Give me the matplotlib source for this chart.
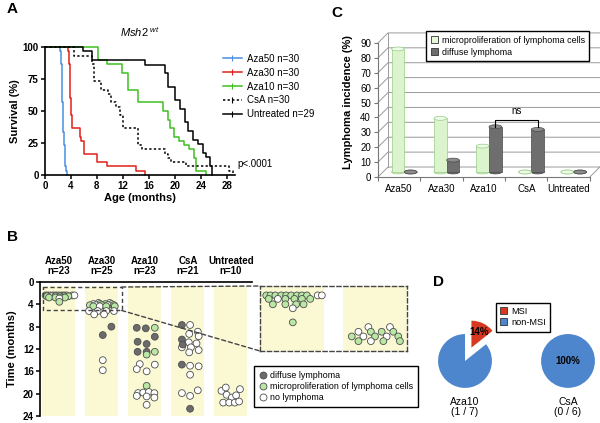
import numpy as np
import matplotlib
matplotlib.use('Agg')
import matplotlib.pyplot as plt
from matplotlib.lines import Line2D
from matplotlib.patches import Patch, Ellipse, ConnectionPatch

plt.rcParams['font.family'] = ['Liberation Sans', 'DejaVu Sans']
plt.rcParams['mathtext.fontset'] = 'custom'
plt.rcParams['mathtext.it'] = 'Liberation Sans:italic'
plt.rcParams['mathtext.rm'] = 'Liberation Sans'

# ---------------- data ----------------
# A: survival steps (months, % alive)
aza50_t = [0, 2.35, 2.45, 2.55, 2.65, 2.75, 2.85, 2.95, 3.05, 3.15, 3.25, 3.35]
aza50_s = [100, 96.7, 86.7, 70, 56.7, 43.3, 33.3, 23.3, 13.3, 6.7, 3.3, 0]
aza30_t = [0, 3.6, 3.7, 3.8, 3.9, 4.0, 4.1, 5.4, 5.6, 6.0, 8.0, 9.5, 14.0, 15.4]
aza30_s = [100, 96.7, 86.7, 73.3, 60, 46.7, 36.7, 30, 26.7, 16.7, 10, 6.7, 3.3, 0]
aza10_t = [0, 8.2, 9.5, 11.8, 12.8, 14.4, 18.2, 19.0, 19.2, 19.9, 20.7, 21.4, 22.2, 23.0, 23.3, 24.8]
aza10_s = [100, 90, 86.7, 80, 66.7, 56.7, 50, 43.3, 36.7, 30, 26.7, 23.3, 20, 13.3, 3.3, 0]
csa_t = [0, 4.4, 7.2, 7.5, 8.7, 9.7, 10.2, 11.0, 11.5, 12.1, 14.4, 14.9, 18.5, 19.0, 19.5, 21.8, 28.4, 29.0]
csa_s = [100, 93.3, 86.7, 73.3, 66.7, 63.3, 56.7, 53.3, 46.7, 36.7, 23.3, 20, 16.7, 13.3, 10, 6.7, 3.3, 0]
untr_t = [0, 5.9, 7.2, 15.4, 18.5, 19.0, 20.0, 20.8, 21.6, 22.1, 22.9, 23.6, 24.4, 24.9, 25.4, 25.8]
untr_s = [100, 96.6, 89.7, 86.2, 79.3, 69.0, 58.6, 51.7, 41.4, 34.5, 27.6, 24.1, 17.2, 13.8, 6.9, 0]
km_labels = ['Aza50 n=30', 'Aza30 n=30', 'Aza10 n=30', 'CsA n=30', 'Untreated n=29']

# B: individual mice (x offset in column, time of death, d=diffuse m=micro n=none)
groups = ['Aza50', 'Aza30', 'Aza10', 'CsA', 'Untreated']
group_n = [23, 25, 23, 21, 10]
aza50_x = [-0.31, -0.26, -0.20, -0.13, -0.07, -0.01, 0.06, 0.12, 0.18, 0.31, 0.36,
           -0.28, -0.17, -0.08, 0.03, 0.12, 0.22, -0.23, -0.08, 0.05, 0.14, 0.01, 0.01]
aza50_y = [2.4, 2.4, 2.4, 2.4, 2.4, 2.4, 2.4, 2.4, 2.4, 2.4, 2.4,
           2.55, 2.55, 2.55, 2.55, 2.55, 2.55, 2.78, 2.78, 2.78, 2.78, 2.95, 3.55]
aza50_k = 'mmmmmmmmmnnmnmmmmmmmmnm'
aza30_x = [-0.08, 0.18, -0.20, -0.05, 0.08, 0.22, -0.28, -0.14, 0.00, 0.14, 0.28,
           -0.20, -0.05, 0.10, 0.30, -0.30, -0.10, 0.10, 0.28, -0.18, 0.05, 0.22, 0.02, 0.02, 0.02]
aza30_y = [3.75, 3.75, 3.95, 3.95, 3.95, 3.95, 4.15, 4.15, 4.15, 4.15, 4.15,
           4.35, 4.35, 4.35, 4.35, 5.2, 5.2, 5.2, 5.2, 5.8, 5.8, 8.0, 9.5, 14.0, 15.8]
aza30_k = 'nnnmmmmnmnmmnmmnnnnnnddnn'
aza10_x = [-0.19, 0.02, 0.23, 0.23, -0.17, 0.04, -0.17, 0.04, 0.23, 0.04,
           -0.12, 0.23, -0.19, 0.04, 0.04, -0.16, -0.04, 0.09, 0.22, -0.19, 0.04, 0.22, 0.04]
aza10_y = [8.2, 8.3, 8.2, 9.8, 10.7, 11.1, 12.5, 12.5, 12.5, 13.0,
           14.7, 14.8, 15.6, 16.0, 18.6, 19.9, 19.8, 19.7, 19.9, 20.4, 20.5, 20.7, 22.0]
aza10_k = 'ddmdddddmmnnnnmnnnnnnnn'
csa_x = [-0.14, 0.05, 0.23, 0.03, 0.25, -0.14, 0.02, 0.20, -0.14, 0.07, 0.25,
         0.03, -0.12, -0.14, 0.05, 0.25, 0.05, -0.14, 0.05, 0.23, 0.05]
csa_y = [7.7, 7.7, 8.9, 9.3, 9.7, 10.3, 10.8, 11.0, 11.7, 11.7, 12.2,
         12.6, 11.2, 14.8, 15.0, 15.1, 16.6, 19.9, 20.4, 19.4, 22.7]
csa_k = 'dnnnndnnnnnnddnnnnnnd'
untr_x = [-0.22, -0.12, 0.21, -0.10, 0.02, -0.18, -0.04, 0.09, 0.19, 0.12]
untr_y = [19.5, 18.9, 19.2, 20.2, 20.7, 21.6, 21.6, 21.6, 21.4, 20.3]
untr_k = 'nnnnnnnnnn'

# C: lymphoma incidence (%)
micro_pct = [82.6, 36.0, 17.4, 0, 0]
diffuse_pct = [0, 8.0, 30.4, 28.6, 0]

# D: MSI status
pie_groups = ['Aza10', 'CsA']
msi_n = [1, 0]
nonmsi_n = [6, 6]

# ---------------- figure ----------------
W, H = 600, 423
fig = plt.figure(figsize=(6, 4.23), dpi=100)


def box(l, t, r, b):
    return [l / W, 1 - b / H, (r - l) / W, (b - t) / H]


def label(x, y, s):
    fig.text(x / W, 1 - y / H, s, fontsize=11, fontweight='bold', ha='center', va='center')


label(12, 9, 'A')
label(13, 237, 'B')
label(337, 13, 'C')
label(439, 282, 'D')

# ---- A ----
axA = fig.add_axes(box(45, 47, 235, 175))
km_colors = ['#4a90e2', '#e0201b', '#3fbf20', 'black', 'black']
km_styles = ['-', '-', '-', (0, (1.5, 1.5)), '-']
for (t, s), c, ls in zip([(aza50_t, aza50_s), (aza30_t, aza30_s), (aza10_t, aza10_s),
                          (csa_t, csa_s), (untr_t, untr_s)], km_colors, km_styles):
    axA.step(t, s, where='post', color=c, ls=ls, lw=1.1, clip_on=False)
axA.set_xlim(0, 29.3)
axA.set_ylim(0, 100)
axA.set_xticks(range(0, 29, 4))
axA.set_yticks([0, 25, 50, 75, 100])
for sp in ['top', 'right']:
    axA.spines[sp].set_visible(False)
for sp in ['left', 'bottom']:
    axA.spines[sp].set_linewidth(1.2)
axA.tick_params(length=3, width=1.1, labelsize=7, pad=1.5)
for lab in axA.get_xticklabels() + axA.get_yticklabels():
    lab.set_fontweight('bold')
axA.set_xlabel('Age (months)', fontsize=8, fontweight='bold', labelpad=1)
axA.set_ylabel('Survival (%)', fontsize=8, fontweight='bold', labelpad=2)
axA.set_title(r'$Msh2^{\ wt}$', fontsize=8, pad=7)
axA.text(29.7, 8.6, 'p<.0001', fontsize=7, va='center', clip_on=False)
handles = [Line2D([], [], color=c, ls=ls, lw=1.1, marker='|', markersize=4, markeredgewidth=0.8)
           for c, ls in zip(km_colors, km_styles)]
fig.legend(handles, km_labels, loc='upper left', bbox_to_anchor=(214 / W, 1 - 45 / H),
           frameon=False, fontsize=7, handlelength=2.0, labelspacing=0.4, handletextpad=0.5)

# ---- B ----
yellow = '#fbf8d4'
kind_color = {'d': '#6b6b6b', 'm': '#b9e8a4', 'n': 'white'}
dots = [(aza50_x, aza50_y, aza50_k), (aza30_x, aza30_y, aza30_k), (aza10_x, aza10_y, aza10_k),
        (csa_x, csa_y, csa_k), (untr_x, untr_y, untr_k)]


def draw_dots(ax):
    ax.bar(range(5), 23.2, bottom=0.8, width=0.77, color=yellow, zorder=0)
    for i, (xs, ys, ks) in enumerate(dots):
        ax.scatter(np.array(xs) + i, ys, s=24, c=[kind_color[k] for k in ks],
                   edgecolors='#4d4d4d', linewidths=0.6, zorder=3)


axB = fig.add_axes(box(40, 282, 252, 416))
draw_dots(axB)
axB.set_xlim(-0.44, 4.49)
axB.set_ylim(24, 0)
axB.set_yticks(range(0, 25, 4))
axB.set_xticks([])
for sp in ['right', 'bottom']:
    axB.spines[sp].set_visible(False)
for sp in ['left', 'top']:
    axB.spines[sp].set_linewidth(1.2)
axB.tick_params(length=3, width=1.1, labelsize=7, pad=1.5)
for lab in axB.get_yticklabels():
    lab.set_fontweight('bold')
axB.set_ylabel('Time (months)', fontsize=8, fontweight='bold', labelpad=4)
for i, (g, n) in enumerate(zip(groups, group_n)):
    axB.text(i, -1.0, f'{g}\nn={n}', ha='center', va='bottom', fontsize=7,
             fontweight='bold', linespacing=1.05)
axB.add_patch(plt.Rectangle((-0.38, 0.9), 1.84, 4.2, fill=False, ls=(0, (3, 2)),
                            lw=1.0, ec='#444', zorder=4))

axZ = fig.add_axes(box(260, 286, 407, 351))
draw_dots(axZ)
axZ.set_xlim(-0.385, 1.385)
axZ.set_ylim(4.77, 2.0)
axZ.set_xticks([])
axZ.set_yticks([])
for sp in axZ.spines.values():
    sp.set_linestyle((0, (3, 2)))
    sp.set_edgecolor('#444')
    sp.set_linewidth(1.0)
for ya, yb in [(0.9, 1), (5.1, 0)]:
    fig.add_artist(ConnectionPatch(xyA=(1.46, ya), coordsA=axB.transData,
                                   xyB=(0, yb), coordsB=axZ.transAxes,
                                   ls=(0, (3, 2)), lw=1.0, color='#444'))

b_handles = [Line2D([], [], ls='', marker='o', markersize=5, mfc=kind_color[k],
                    mec='#4d4d4d', mew=0.6) for k in 'dmn']
fig.legend(b_handles, ['diffuse lymphoma', 'microproliferation of lymphoma cells', 'no lymphoma'],
           loc='upper left', bbox_to_anchor=(250 / W, 1 - 362 / H), fontsize=6.4,
           fancybox=False, edgecolor='black', framealpha=1, handletextpad=0.3,
           labelspacing=0.25, borderpad=0.5, handlelength=1.0)

# ---- C ----
axC = fig.add_axes(box(378, 28, 600, 177))
dx, dy = 0.236, 6.7
axC.set_xlim(0, 5.24)
axC.set_ylim(0, 100)
for v in range(0, 91, 10):
    axC.plot([0, dx, 5 + dx], [v, v + dy, v + dy], color='#9a9a9a', lw=0.7, clip_on=False, zorder=1)
axC.plot([dx, dx], [dy, 90 + dy], color='#9a9a9a', lw=0.7, zorder=1)
axC.plot([5 + dx, 5 + dx], [dy, 90 + dy], color='#9a9a9a', lw=0.7, clip_on=False, zorder=1)
axC.plot([5, 5 + dx], [0, dy], color='#9a9a9a', lw=0.7, clip_on=False, zorder=1)

xc = np.arange(5) + 0.5
bw = 0.3
eh = 2.6
for xs, vals, body, top, edge in [(xc - 0.03, micro_pct, '#dcf4cd', '#eefbe6', '#98cc86'),
                                   (xc + 0.27, diffuse_pct, '#6e6e6e', '#8c8c8c', '#4a4a4a')]:
    axC.bar(xs, vals, width=bw, bottom=dy / 2, color=body, edgecolor=edge, lw=0.5, zorder=3)
    for x, v in zip(xs, vals):
        axC.add_patch(Ellipse((x, dy / 2), bw, eh, fc=body, ec=edge, lw=0.5, zorder=2))
        axC.add_patch(Ellipse((x, dy / 2 + v), bw, eh, fc=top, ec=edge, lw=0.5, zorder=4))

for sp in ['top', 'right']:
    axC.spines[sp].set_visible(False)
axC.spines['left'].set_bounds(0, 90)
axC.spines['bottom'].set_bounds(0, 5)
for sp in ['left', 'bottom']:
    axC.spines[sp].set_color('#777')
    axC.spines[sp].set_linewidth(0.8)
axC.set_yticks(range(0, 91, 10))
axC.set_xticks(range(6))
axC.set_xticklabels([])
axC.set_xticks(xc, minor=True)
axC.set_xticklabels(groups, minor=True)
axC.tick_params(axis='both', which='major', length=3, width=0.8, color='#777', labelsize=7, pad=2)
axC.tick_params(axis='x', which='minor', length=0, labelsize=7, pad=5)
axC.set_ylabel('Lymphoma incidence (%)', fontsize=8, fontweight='bold', labelpad=5)
axC.plot([2.77, 2.77, 3.77, 3.77], [33.5, 38.3, 38.3, 33.5], color='black', lw=0.8, zorder=5)
axC.text(3.27, 41, 'ns', ha='center', va='bottom', fontsize=7)
axC.legend([Patch(fc='#e6f8da', ec='#333', lw=0.6), Patch(fc='#6e6e6e', ec='#333', lw=0.6)],
           ['microproliferation of lymphoma cells', 'diffuse lymphoma'],
           loc='upper left', bbox_to_anchor=(422 / W, 1 - 27 / H), bbox_transform=fig.transFigure,
           fontsize=6.4, fancybox=False, edgecolor='black', framealpha=1, handlelength=0.8,
           handleheight=0.8, handletextpad=0.4, labelspacing=0.3, borderpad=0.5)

# ---- D ----
red, blue = '#d8381f', '#4d86cc'
for (cx, g, m, nm) in zip([465, 568], pie_groups, msi_n, nonmsi_n):
    axP = fig.add_axes(box(cx - 35, 316, cx + 35, 396))
    if m > 0:
        _, _, autot = axP.pie([m, nm], colors=[red, blue], startangle=90, counterclock=False,
                              explode=[0.55, 0], pctdistance=0.66,
                              autopct=lambda p: f'{p:.0f}%' if p < 50 else '')
    else:
        _, _, autot = axP.pie([nm], colors=[blue], startangle=90, pctdistance=0,
                              autopct=lambda p: f'{p:.0f}%')
    for tt in autot:
        tt.set_fontsize(7)
        tt.set_fontweight('bold')
    axP.set_xlim(-1.3, 1.3)
    axP.set_ylim(-1.3, 1.67)
    fig.text(cx / W, 1 - 407 / H, f'{g}\n({m} / {m + nm})', ha='center', va='center',
             fontsize=7.5, linespacing=1.1)
fig.legend([Patch(fc=red, ec='#333', lw=0.6), Patch(fc=blue, ec='#333', lw=0.6)],
           ['MSI', 'non-MSI'], loc='upper left', bbox_to_anchor=(491 / W, 1 - 298 / H),
           fontsize=6.6, fancybox=False, edgecolor='black', framealpha=1, handlelength=0.8,
           handleheight=0.8, handletextpad=0.4, labelspacing=0.2, borderpad=0.5)

fig.savefig('out.png', dpi=100)
